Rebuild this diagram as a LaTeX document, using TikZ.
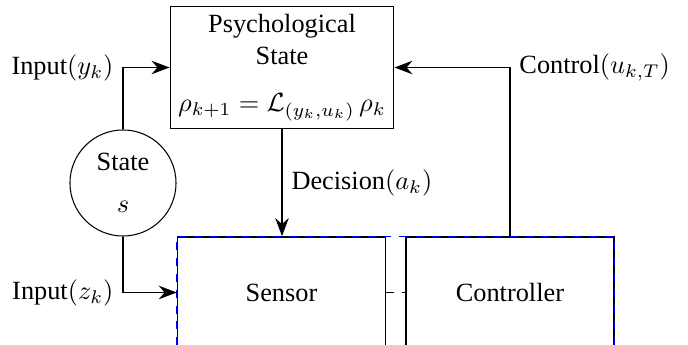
\documentclass[tikz,border=0pt]{standalone}
\usepackage[no-math]{fontspec}
\setmainfont{LiberationSerif}[Extension=.ttf,UprightFont=*-Regular,ItalicFont=*-Italic,BoldFont=*-Bold,BoldItalicFont=*-BoldItalic]
\usepackage{amsmath,amssymb}
\usepackage{tikz}
\usetikzlibrary{arrows.meta,positioning,fit}

\begin{document}
\begin{tikzpicture}[x=0.38pt,y=-0.38pt,font=\normalsize,
  block/.style={draw,semithick,align=center,minimum width=79pt,inner sep=3pt},
  stnode/.style={draw,circle,align=center,minimum size=40.3pt,inner sep=1pt},
  flow/.style={-{Stealth[length=2.4mm,width=1.8mm]},semithick},
  group/.style={draw=blue,dashed,inner sep=0pt}]
\useasboundingbox (0,0) rectangle (688,345);
\node[block,minimum height=46pt](psy) at (282,67.5){Psychological\\State\\[6pt]$\rho_{k+1}=\mathcal{L}_{(y_k,u_k)}\,\rho_k$};
\node[stnode](st) at (123,183){State\\[4pt]$s$};
\node[block,minimum height=42.2pt](sen) at (281.5,292.5){Sensor};
\node[block,minimum height=42.2pt,right=7.2pt of sen](ctl){Controller};
\node[group,fit=(sen)(ctl)](grp){};
\draw[flow](st.north)|-(psy.west)node[pos=0.5,left]{Input$(y_k)$};
\draw[flow](st.south)|-(sen.west)node[pos=0.5,left]{Input$(z_k)$};
\draw[flow](psy.south)--(psy.south|-sen.north)node[midway,right]{Decision$(a_k)$};
\draw[flow](ctl.north)|-(psy.east)node[pos=0.5,right]{Control$(u_{k,T})$};
\draw[dashed,semithick](sen.east)--(ctl.west);
\end{tikzpicture}
\end{document}
